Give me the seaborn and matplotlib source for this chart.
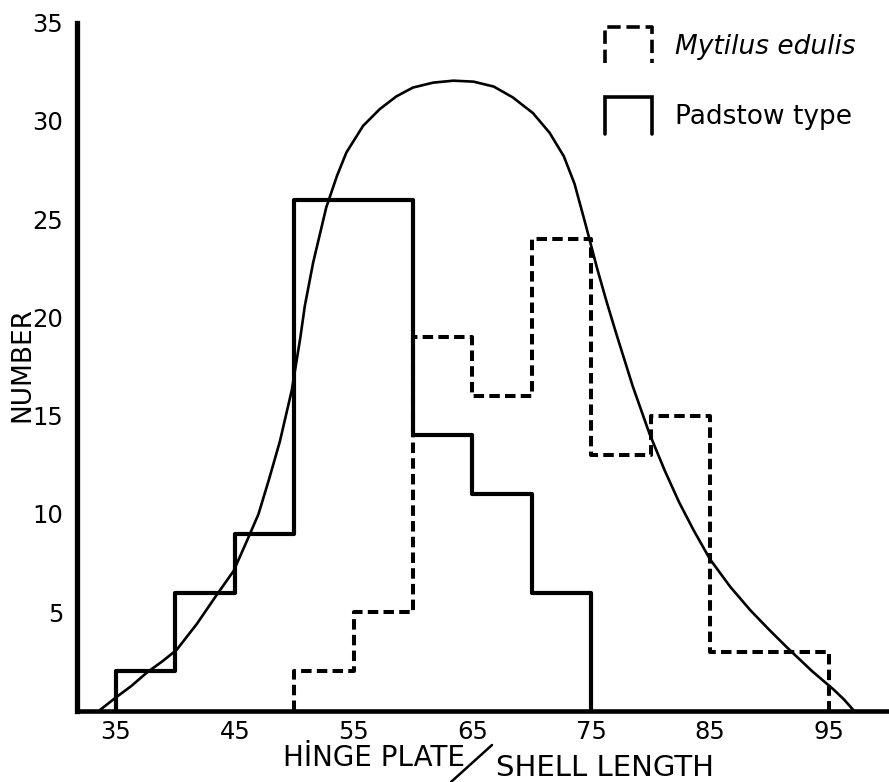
import matplotlib
matplotlib.use("Agg")
import matplotlib.pyplot as plt
import seaborn as sns
import pandas as pd
import numpy as np
from matplotlib.lines import Line2D
from matplotlib.legend_handler import HandlerBase

# ---------------- data ----------------
bin_width = 5
padstow_left = [35, 40, 45, 50, 55, 60, 65, 70]
padstow_counts = [2, 6, 9, 26, 26, 14, 11, 6]
mytilus_left = [50, 55, 60, 65, 70, 75, 80, 85, 90]
mytilus_counts = [2, 5, 19, 16, 24, 13, 15, 3, 3]

# fitted curve
curve_x = [33.6, 34.9, 36.3, 37.6, 38.9, 40.1, 41.8, 43.5, 44.9, 46.0, 47.0,
           47.9, 48.8, 49.8, 50.5, 50.9, 51.6, 52.7, 53.6, 54.4, 55.8,
           57.2, 58.6, 60.0, 61.7, 63.4, 65.1, 66.8, 68.4, 70.1, 71.5,
           72.7, 73.6, 74.5, 75.5, 76.3, 77.1, 78.5, 79.9, 81.2, 82.4,
           83.6, 85.0, 86.7, 88.4, 90.0, 91.5, 93.6, 95.4, 96.3, 97.1]
curve_y = [0.0, 0.62, 1.25, 1.93, 2.5, 3.08, 4.4, 5.9, 7.1, 8.6, 10.0,
           11.8, 13.7, 16.3, 18.9, 20.6, 22.8, 25.6, 27.2, 28.4, 29.75,
           30.6, 31.25, 31.7, 31.95, 32.05, 32.0, 31.75, 31.2, 30.4, 29.4,
           28.2, 26.8, 24.8, 22.5, 20.8, 19.2, 16.5, 14.1, 12.2, 10.6,
           9.2, 7.7, 6.3, 5.1, 4.1, 3.2, 2.0, 1.07, 0.55, 0.0]

x_ticks = list(range(35, 101, 5))
x_tick_labels = [35, 45, 55, 65, 75, 85, 95]
y_ticks = [5, 10, 15, 20, 25, 30, 35]

legend_labels = ["Mytilus edulis", "Padstow type"]
xlabel_left = "HİNGE PLATE"
xlabel_right = "SHELL LENGTH"
ylabel = "NUMBER"


def step_table(lefts, counts, width):
    xs = [lefts[0]] + list(lefts) + [lefts[-1] + width]
    ys = [0] + list(counts) + [0]
    return pd.DataFrame({"x": xs, "y": ys})


padstow_df = step_table(padstow_left, padstow_counts, bin_width)
mytilus_df = step_table(mytilus_left, mytilus_counts, bin_width)
curve_df = pd.DataFrame({"x": curve_x, "y": curve_y})

# ---------------- figure ----------------
sns.set_theme(style="white")
plt.rcParams["font.family"] = ["DejaVu Sans"]
for k in ["text.color", "axes.labelcolor", "xtick.color", "ytick.color",
          "axes.edgecolor"]:
    plt.rcParams[k] = "black"

W, H = 889, 782
fig = plt.figure(figsize=(W / 100, H / 100), dpi=100)
ax_left, ax_bottom, ax_top, ax_right = 77, 710.5, 22.7, 889
ax = fig.add_axes([ax_left / W, 1 - ax_bottom / H,
                   (ax_right - ax_left) / W, (ax_bottom - ax_top) / H])

dash = (0, (2.6, 1.3))
sns.lineplot(data=mytilus_df, x="x", y="y", estimator=None, sort=False,
             drawstyle="steps-post", color="black", linewidth=2.9,
             linestyle=dash, ax=ax)
sns.lineplot(data=padstow_df, x="x", y="y", estimator=None, sort=False,
             drawstyle="steps-post", color="black", linewidth=3.0, ax=ax)
sns.lineplot(data=curve_df, x="x", y="y", estimator=None, sort=False,
             color="black", linewidth=1.9, ax=ax,
             solid_joinstyle="round", solid_capstyle="round")

ax.set_xlim(31.72, 100.07)
ax.set_ylim(0, 35)
ax.set_xticks(x_ticks)
ax.set_xticklabels([str(v) if v in x_tick_labels else "" for v in x_ticks])
ax.set_yticks(y_ticks)
ax.set_yticklabels([str(v) for v in y_ticks])
ax.set_xlabel("")
ax.set_ylabel("")

for s in ["top", "right"]:
    ax.spines[s].set_visible(False)
ax.spines["left"].set_linewidth(3.8)
ax.spines["bottom"].set_linewidth(3.3)
ax.tick_params(axis="x", direction="in", length=8.6, width=2.2,
               labelsize=17.5, pad=7, colors="black")
ax.tick_params(axis="y", direction="in", length=7.5, width=3.0,
               labelsize=17.5, pad=10, colors="black")
ax.patch.set_alpha(0)


# ---------------- legend with open-box glyphs ----------------
class OpenBoxHandler(HandlerBase):
    def create_artists(self, legend, orig_handle, xdescent, ydescent,
                       width, height, fontsize, trans):
        x0, y0 = -xdescent, -ydescent
        xs = [x0, x0, x0 + width, x0 + width]
        ys = [y0, y0 + height, y0 + height, y0]
        ln = Line2D(xs, ys, linestyle=orig_handle.get_linestyle(),
                    linewidth=orig_handle.get_linewidth(), color="black",
                    solid_joinstyle="miter")
        ln.set_transform(trans)
        return [ln]


h_myt = Line2D([], [], color="black", linewidth=2.6, linestyle=(0, (2.4, 1.6)))
h_pad = Line2D([], [], color="black", linewidth=2.6, linestyle="-")
fs_leg = 19
em = fs_leg * 1.389
leg = ax.legend([h_myt, h_pad], legend_labels,
                handler_map={Line2D: OpenBoxHandler()},
                loc="upper left", bbox_to_anchor=(605 / W, 1 - 27 / H),
                bbox_transform=fig.transFigure, frameon=False,
                fontsize=fs_leg, borderpad=0, borderaxespad=0,
                handlelength=47 / em, handleheight=46 / em,
                labelspacing=(80 - 46) / em, handletextpad=23 / em)
leg.get_texts()[0].set_fontstyle("italic")
for t in leg.get_texts():
    t.set_color("black")

# ---------------- axis titles ----------------
fig.text(283 / W, 1 - 758 / H, xlabel_left, ha="left", va="center",
         fontsize=20, color="black")
fig.text(496 / W, 1 - 768 / H, xlabel_right, ha="left", va="center",
         fontsize=21, color="black")
fig.add_artist(Line2D([451 / W, 492 / W], [1 - 782 / H, 1 - 745 / H],
                      transform=fig.transFigure, color="black", linewidth=1.8))
fig.text(22 / W, 1 - 365 / H, ylabel, rotation=90, ha="center", va="center",
         fontsize=19, color="black")

fig.savefig("out.png", dpi=100)
